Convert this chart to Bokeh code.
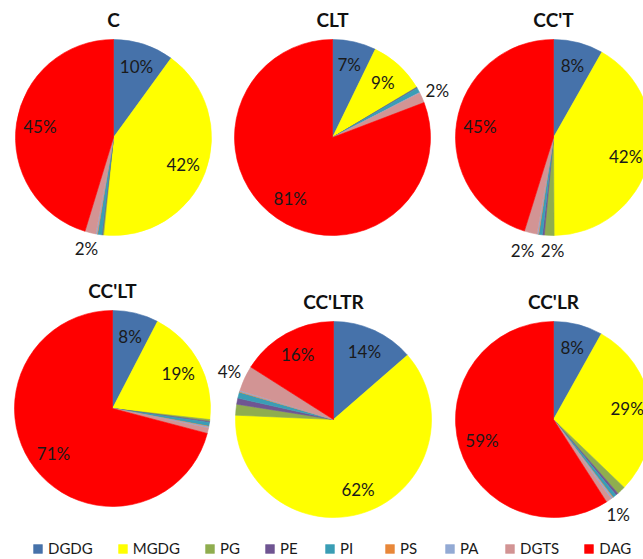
import math
from bokeh.plotting import figure
from bokeh.models import ColumnDataSource, Range1d, Legend, LegendItem
from bokeh.core.properties import value
from bokeh.embed import file_html
from bokeh.resources import INLINE

# ---------------- data ----------------
categories = ["DGDG", "MGDG", "PG", "PE", "PI", "PS", "PA", "DGTS", "DAG"]
titles = ["C", "CLT", "CC'T", "CC'LT", "CC'LTR", "CC'LR"]

C_vals      = [10.0, 41.6, 0.2, 0.1, 0.7, 0.1, 0.2, 1.8, 45.3]
CLT_vals    = [7.2, 9.2, 0.1, 0.1, 0.8, 0.0, 0.1, 1.7, 80.8]
CCT_vals    = [8.2, 41.7, 1.6, 0.3, 0.6, 0.1, 0.2, 2.1, 45.2]
CCLT_vals   = [7.6, 19.2, 0.3, 0.2, 0.6, 0.1, 0.2, 0.9, 70.9]
CCLTR_vals  = [13.6, 62.1, 1.8, 1.0, 1.0, 0.1, 0.2, 4.2, 16.0]
CCLR_vals   = [8.1, 29.1, 1.4, 0.4, 0.6, 0.1, 0.3, 0.9, 59.1]
all_vals = [C_vals, CLT_vals, CCT_vals, CCLT_vals, CCLTR_vals, CCLR_vals]

# slices that carry a percentage label in each pie
labelled = [
    ["DGDG", "MGDG", "DGTS", "DAG"],
    ["DGDG", "MGDG", "DGTS", "DAG"],
    ["DGDG", "MGDG", "PG", "DGTS", "DAG"],
    ["DGDG", "MGDG", "DAG"],
    ["DGDG", "MGDG", "DGTS", "DAG"],
    ["DGDG", "MGDG", "DGTS", "DAG"],
]

# ---------------- style / layout ----------------
colors = ["#4672AA", "#FFFF00", "#8FAD4F", "#6F5592", "#3A9DB5",
          "#E8883A", "#93AAD4", "#D29494", "#FF0000"]
centers = [(113, 137), (332, 137), (553, 137),
           (112, 408), (333, 419), (553, 419)]
R = 98

W, H = 643, 559
p = figure(width=W, height=H, output_backend="svg", toolbar_location=None,
           x_range=Range1d(0, W), y_range=Range1d(-H, 0),
           x_axis_type=None, y_axis_type=None, min_border=0,
           background_fill_color="white", border_fill_color="white")
p.grid.visible = False
p.outline_line_color = None

legend_renderer = None
lab_x, lab_y, lab_t = [], [], []
for k, vals in enumerate(all_vals):
    cx, cy = centers[k]
    total = sum(vals)
    cum = 0.0
    d = dict(x=[], y=[], start=[], end=[], color=[], category=[])
    outs = []
    for i, v in enumerate(vals):
        f0 = cum / total
        cum += v
        f1 = cum / total
        if v > 0:
            d["x"].append(cx)
            d["y"].append(-cy)
            d["start"].append(math.pi / 2 - 2 * math.pi * f0)
            d["end"].append(math.pi / 2 - 2 * math.pi * f1)
            d["color"].append(colors[i])
            d["category"].append(categories[i])
        if categories[i] in labelled[k]:
            mid = 2 * math.pi * (f0 + f1) / 2
            outside = v < 5
            rr = R * (1.17 if outside else 0.76)
            lx = cx + rr * math.sin(mid)
            ly = cy - rr * math.cos(mid)
            txt = "%d%%" % round(v)
            if outside:
                outs.append([lx, ly, txt])
            else:
                lab_x.append(lx); lab_y.append(-ly); lab_t.append(txt)
    # keep outside labels of one pie from overlapping
    outs.sort(key=lambda o: o[0])
    for a in range(len(outs) - 1):
        gap = outs[a + 1][0] - outs[a][0]
        if abs(outs[a + 1][1] - outs[a][1]) < 16 and gap < 30:
            push = (30 - gap) / 2
            outs[a][0] -= push
            outs[a + 1][0] += push
            avg = (outs[a][1] + outs[a + 1][1]) / 2
            outs[a][1] = outs[a + 1][1] = avg
    for lx, ly, txt in outs:
        lab_x.append(lx); lab_y.append(-ly); lab_t.append(txt)

    src = ColumnDataSource(d)
    r = p.wedge(x="x", y="y", radius=R, start_angle="start", end_angle="end",
                direction="clock", fill_color="color", line_color="color",
                line_width=0.6, source=src)
    if k == 0:
        legend_renderer = r

    p.text(x=[cx], y=[-(cy - R - 20)], text=[titles[k]],
           text_font=value("Lato"), text_font_style="bold",
           text_font_size="19px", text_align="center",
           text_baseline="middle", text_color="#111111")

p.text(x=lab_x, y=lab_y, text=lab_t, text_font=value("Lato"),
       text_font_size="17px", text_align="center", text_baseline="middle",
       text_color="#1a1a1a")

legend = Legend(items=[LegendItem(label=categories[i], renderers=[legend_renderer], index=i)
                       for i in range(len(categories))],
                orientation="horizontal", location=(32, 2),
                glyph_width=11, glyph_height=11, label_height=12,
                label_standoff=5, spacing=24, padding=0, margin=0,
                border_line_color=None, background_fill_alpha=0,
                label_text_font="Lato", label_text_font_size="15px",
                label_text_color="#1a1a1a")
p.add_layout(legend)

open("out.html", "w").write(file_html(p, INLINE))
